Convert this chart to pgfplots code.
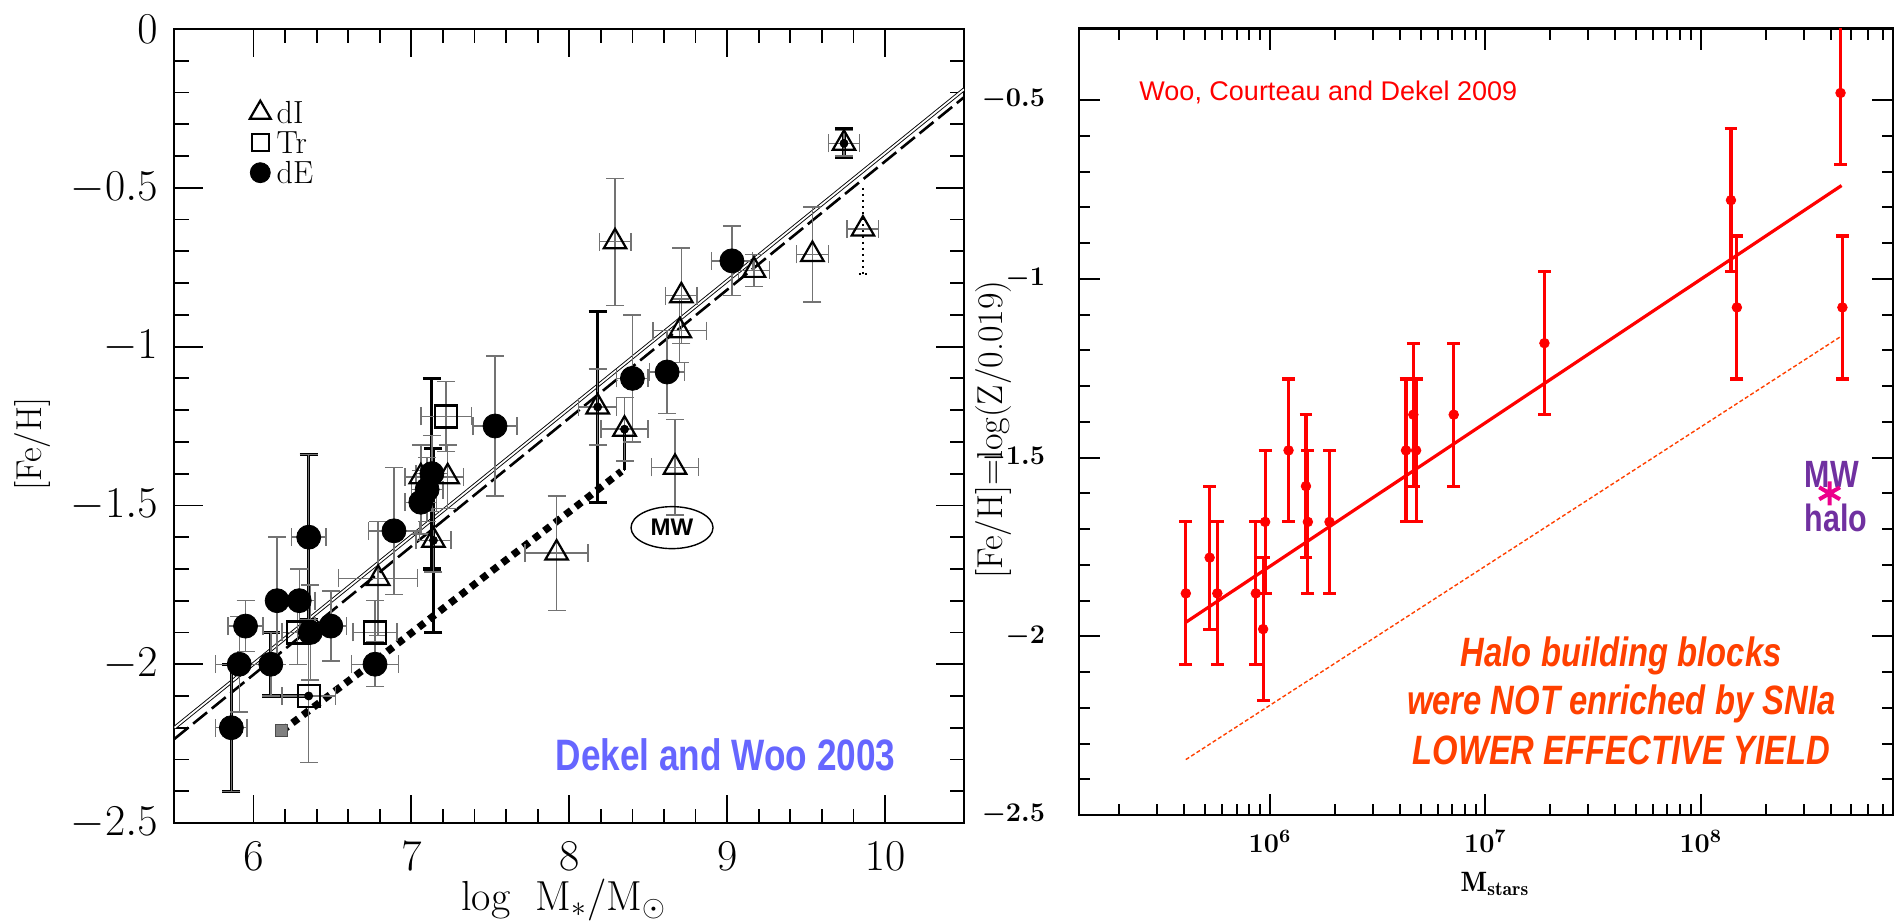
\RequirePackage{fix-cm}
\documentclass[border=0pt]{standalone}
\usepackage{fontspec}
\usepackage{pgfplots}
\pgfplotsset{compat=1.18}
\usepackage{pgfplotstable}
\newfontfamily\narrowsans[FakeStretch=0.8]{Liberation Sans}
\newfontfamily\plainsans{Liberation Sans}
\definecolor{halored}{RGB}{255,64,0}
\definecolor{dekelblue}{RGB}{102,102,255}
\definecolor{mwpurple}{RGB}{112,48,160}
\definecolor{errgray}{RGB}{115,115,115}

% ---- left panel (Dekel & Woo 2003) ----
\pgfplotstableread{
x y ex ey
5.86 -2.20 0.10 0.20
5.91 -2.00 0.15 0.15
5.95 -1.88 0.11 0.08
6.11 -2.00 0.00 0.10
6.15 -1.80 0.00 0.20
6.29 -1.80 0.10 0.10
6.35 -1.60 0.11 0.26
6.36 -1.90 0.00 0.15
6.49 -1.88 0.10 0.11
6.77 -2.00 0.15 0.07
6.89 -1.58 0.16 0.20
7.06 -1.49 0.10 0.10
7.10 -1.45 0.10 0.10
7.13 -1.40 0.10 0.12
7.53 -1.25 0.14 0.22
8.40 -1.10 0.10 0.20
8.62 -1.08 0.11 0.13
9.03 -0.73 0.13 0.11
}\dEdata
\pgfplotstableread{
x y ex ey
6.79 -1.73 0.25 0.18
7.06 -1.41 0.10 0.10
7.23 -1.41 0.10 0.10
7.14 -1.61 0.11 0.10
7.92 -1.65 0.20 0.18
8.18 -1.19 0.12 0.12
8.35 -1.26 0.15 0.10
8.29 -0.67 0.10 0.20
8.71 -0.84 0.10 0.15
8.70 -0.95 0.17 0.10
8.67 -1.38 0.15 0.15
9.17 -0.76 0.10 0.05
9.54 -0.71 0.10 0.15
9.74 -0.36 0.10 0.04
}\dIdata
\pgfplotstableread{
x y ex ey
7.22 -1.22 0.16 0.11
6.35 -2.10 0.17 0.21
6.77 -1.90 0.14 0.10
6.28 -1.90 0.10 0.10
}\Trdata
\pgfplotstableread{
x y ey
5.86 -2.20 0.20
6.11 -2.00 0.10
6.35 -1.60 0.26
7.13 -1.40 0.30
7.14 -1.61 0.29
8.18 -1.19 0.30
9.74 -0.36 0.045
}\thickdata

% ---- right panel (Woo, Courteau & Dekel 2009) ----
\pgfplotstableread{
x y ey
4.07e5 -1.88 0.2
5.25e5 -1.78 0.2
5.70e5 -1.88 0.2
8.60e5 -1.88 0.2
9.30e5 -1.98 0.2
9.50e5 -1.68 0.2
1.22e6 -1.48 0.2
1.47e6 -1.58 0.2
1.50e6 -1.68 0.2
1.89e6 -1.68 0.2
4.28e6 -1.48 0.2
4.63e6 -1.38 0.2
4.77e6 -1.48 0.2
7.13e6 -1.38 0.2
1.88e7 -1.18 0.2
1.38e8 -0.78 0.2
1.47e8 -1.08 0.2
4.45e8 -0.48 0.2
4.54e8 -1.08 0.2
}\Woodata

\begin{document}
\begin{tikzpicture}
\useasboundingbox (0,0) rectangle (947.5pt,461.5pt);

\begin{axis}[
  at={(87.25pt,50pt)}, anchor=south west,
  scale only axis, width=394.75pt, height=397pt,
  xmin=5.5, xmax=10.5, ymin=-2.5, ymax=0,
  axis line style={line width=1pt},
  tick align=inside,
  xtick={6,7,8,9,10}, minor x tick num=4,
  ytick={-2.5,-2,-1.5,-1,-0.5,0}, minor y tick num=4,
  major tick length=14pt, minor tick length=7pt,
  every tick/.style={black, line width=0.9pt},
  tick label style={font=\fontsize{22}{22}\selectfont},
  xticklabel style={yshift=-6pt},
  yticklabel style={xshift=-5pt},
  xlabel={log\ \ M$_*$/M$_\odot$},
  xlabel style={at={(axis description cs:0.493,-0.11)}, anchor=base, font=\fontsize{21}{21}\selectfont},
  ylabel={[Fe/H]},
  ylabel style={at={(axis description cs:-0.18,0.477)}, anchor=center, font=\fontsize{18}{18}\selectfont},
  legend style={at={(axis description cs:0.095,0.914)}, anchor=north west, draw=none, fill=none,
    font=\fontsize{16}{16}\selectfont, row sep=0pt, inner sep=0pt,
    nodes={inner xsep=3pt, inner ysep=2pt, text height=11pt, text depth=0pt}},
  legend cell align=left,
  legend image code/.code={\draw[#1] plot coordinates {(0pt,0pt)};},
]
\addlegendimage{only marks, mark=triangle, mark size=6pt, mark options={line width=1.1pt, black}}
\addlegendentry{dI}
\addlegendimage{only marks, mark=square, mark size=4.3pt, mark options={line width=1.1pt, black}}
\addlegendentry{Tr}
\addlegendimage{only marks, mark=*, mark size=5pt, black}
\addlegendentry{dE}

% fits
\addplot[forget plot, black, line width=0.45pt, double=white, double distance=0.9pt] coordinates {(5.5,-2.20) (10.5,-0.19)};
\addplot[forget plot, black, line width=1.3pt, dash pattern=on 9pt off 3pt] coordinates {(5.5,-2.235) (10.5,-0.215)};
\addplot[forget plot, black, line width=3.6pt, dash pattern=on 3.6pt off 3pt] coordinates {(6.18,-2.21) (6.77,-1.99) (7.5,-1.71) (8.0,-1.52) (8.33,-1.393)};
\addplot[forget plot, only marks, mark=square*, mark size=3pt, mark options={fill=gray, draw=black!70, line width=0.5pt}] coordinates {(6.18,-2.21)};

% thick black error bars
\addplot[forget plot, only marks, mark=none,
  error bars/.cd, y dir=both, y explicit,
  error bar style={draw=black, line width=1.6pt},
  error mark options={draw=black, rotate=90, mark size=4.5pt, line width=1.6pt}]
  table[x=x, y=y, y error=ey]{\thickdata};
\addplot[forget plot, only marks, mark=none,
  error bars/.cd, y dir=minus, y explicit,
  error bar style={draw=black, line width=1.6pt},
  error mark options={draw=black, mark size=0.1pt}]
  coordinates {(8.35,-1.26) +- (0,0.13)};
\addplot[forget plot, only marks, mark=none,
  error bars/.cd, x dir=minus, x explicit,
  error bar style={draw=black, line width=1.6pt},
  error mark options={draw=black, mark size=0.1pt}]
  coordinates {(6.35,-2.10) +- (0.28,0)};

% dotted error bar
\addplot[forget plot, black, line width=1pt, dotted] coordinates {(9.86,-0.50) (9.86,-0.77)};
\addplot[forget plot, black, line width=1pt, dotted] coordinates {(9.835,-0.77) (9.885,-0.77)};

% data with thin gray error bars
\addplot[forget plot, only marks, mark=triangle, mark size=6.5pt, mark options={black, line width=1.1pt},
  error bars/.cd, x dir=both, x explicit, y dir=both, y explicit,
  error bar style={errgray, line width=0.7pt},
  error mark options={errgray, rotate=90, mark size=4.5pt, line width=0.7pt}]
  table[x=x, y=y, x error=ex, y error=ey]{\dIdata};
\addplot[forget plot, only marks, mark=triangle, mark size=6.5pt, mark options={black, line width=1.1pt},
  error bars/.cd, x dir=both, x explicit,
  error bar style={errgray, line width=0.7pt},
  error mark options={errgray, rotate=90, mark size=4.5pt, line width=0.7pt}]
  coordinates {(9.86,-0.63) +- (0.10,0)};
\addplot[forget plot, only marks, mark=square, mark size=5.5pt, mark options={black, line width=1.1pt},
  error bars/.cd, x dir=both, x explicit, y dir=both, y explicit,
  error bar style={errgray, line width=0.7pt},
  error mark options={errgray, rotate=90, mark size=4.5pt, line width=0.7pt}]
  table[x=x, y=y, x error=ex, y error=ey]{\Trdata};
\addplot[forget plot, only marks, mark=*, mark size=6pt, black,
  error bars/.cd, x dir=both, x explicit, y dir=both, y explicit,
  error bar style={errgray, line width=0.7pt},
  error mark options={errgray, rotate=90, mark size=4.5pt, line width=0.7pt}]
  table[x=x, y=y, x error=ex, y error=ey]{\dEdata};

\draw[line width=0.7pt] (axis cs:8.651,-1.57) ellipse [x radius=20.5pt, y radius=10.5pt];
\node[font=\plainsans\bfseries\fontsize{12}{12}\selectfont] at (axis cs:8.651,-1.57) {MW};
\node[font=\narrowsans\bfseries\fontsize{22}{22}\selectfont, text=dekelblue] at (axis cs:8.99,-2.286) {Dekel and Woo 2003};
\end{axis}

\begin{axis}[
  at={(539.5pt,54pt)}, anchor=south west,
  scale only axis, width=407pt, height=393.2pt,
  xmode=log, xmin=1.3e5, xmax=7.8e8, ymin=-2.5, ymax=-0.3,
  axis line style={line width=1.2pt},
  tick align=inside,
  xtick={1e6,1e7,1e8},
  minor xtick={2e5,3e5,4e5,5e5,6e5,7e5,8e5,9e5,2e6,3e6,4e6,5e6,6e6,7e6,8e6,9e6,2e7,3e7,4e7,5e7,6e7,7e7,8e7,9e7,2e8,3e8,4e8,5e8,6e8,7e8},
  ytick={-2.5,-2,-1.5,-1,-0.5}, minor y tick num=4,
  major tick length=10.5pt, minor tick length=5.5pt,
  every tick/.style={black, line width=1pt},
  tick label style={font=\fontsize{13.5}{13.5}\selectfont\boldmath},
  xticklabel style={yshift=-4pt},
  yticklabel style={xshift=-13.5pt},
  xlabel={$\mathbf{M_{stars}}$},
  xlabel style={at={(axis description cs:0.511,-0.097)}, anchor=base, font=\fontsize{14}{14}\selectfont},
  ylabel={[Fe/H]=log(Z/0.019)},
  ylabel style={at={(axis description cs:-0.105,0.49)}, anchor=center, font=\fontsize{18}{18}\selectfont},
]
\addplot[red, line width=1.6pt] coordinates {(4.07e5,-1.961) (4.5e8,-0.739)};
\addplot[halored, line width=0.7pt, dash pattern=on 2pt off 1.2pt] coordinates {(4.07e5,-2.345) (4.5e8,-1.16)};
\addplot[only marks, mark=*, mark size=2.4pt, red,
  error bars/.cd, y dir=both, y explicit,
  error bar style={red, line width=1.6pt},
  error mark options={red, rotate=90, mark size=3.2pt, line width=1.6pt}]
  table[x=x, y=y, y error=ey]{\Woodata};
\addplot[only marks, mark=asterisk, mark size=6pt, magenta, mark options={line width=2pt}] coordinates {(3.96e8,-1.60)};
\node[font=\narrowsans\bfseries\fontsize{19}{19}\selectfont, text=mwpurple] at (axis cs:4.06e8,-1.547) {MW};
\node[font=\narrowsans\bfseries\fontsize{19}{19}\selectfont, text=mwpurple] at (axis cs:4.23e8,-1.669) {halo};
\node[anchor=west, font=\plainsans\fontsize{13.5}{13.5}\selectfont, text=red] at (axis cs:2.3e5,-0.478) {Woo, Courteau and Dekel 2009};
\node[font=\narrowsans\bfseries\itshape\fontsize{20.5}{20.5}\selectfont, text=halored] at (axis cs:4.27e7,-2.054) {Halo building blocks};
\node[font=\narrowsans\bfseries\itshape\fontsize{20.5}{20.5}\selectfont, text=halored] at (axis cs:4.27e7,-2.188) {were NOT enriched by SNIa};
\node[font=\narrowsans\bfseries\itshape\fontsize{20.5}{20.5}\selectfont, text=halored] at (axis cs:4.27e7,-2.32) {LOWER EFFECTIVE YIELD};
\end{axis}
\end{tikzpicture}
\end{document}
